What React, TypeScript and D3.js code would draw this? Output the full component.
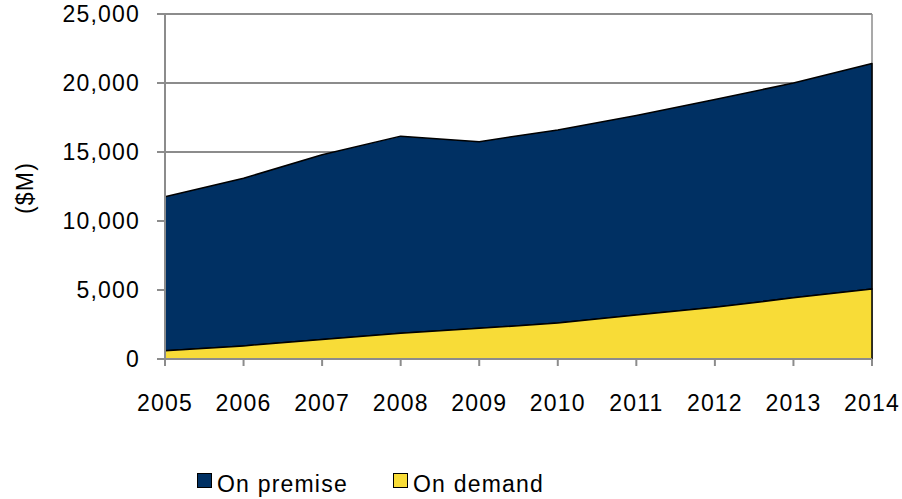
import * as d3 from "d3";
import React from "react";

const years = [2005, 2006, 2007, 2008, 2009, 2010, 2011, 2012, 2013, 2014];
const onDemand = [600, 950, 1420, 1870, 2220, 2600, 3180, 3750, 4430, 5080];
const total = [11750, 13100, 14800, 16150, 15750, 16600, 17650, 18800, 20000, 21420];
const onPremise = total.map((t, i) => t - onDemand[i]);
const yTicks = [0, 5000, 10000, 15000, 20000, 25000];

const seriesNames = ["On demand", "On premise"];
const colors: Record<string, string> = {
  "On premise": "#003063",
  "On demand": "#F8DC37",
};

export default function App() {
  const W = 902;
  const H = 499;
  const margin = { top: 14, right: 30, bottom: 140, left: 165 };
  const width = 872 - margin.left;
  const height = 359 - margin.top;

  const x = d3.scaleLinear().domain([2005, 2014]).range([0, width]);
  const y = d3.scaleLinear().domain([0, 25000]).range([height, 0]);

  const rows = years.map((yr, i) => ({
    year: yr,
    "On demand": onDemand[i],
    "On premise": onPremise[i],
  }));
  const stack = d3.stack<any>().keys(seriesNames);
  const layers = stack(rows);

  const area = d3
    .area<any>()
    .x((d) => x(d.data.year))
    .y0((d) => y(d[0]))
    .y1((d) => y(d[1]));

  const font = "'Liberation Sans', Arial, sans-serif";
  const grid = "#8c8c8c";
  const fs = 23;
  const ls = 1.2;

  return (
    <svg
      width={W}
      height={H}
      style={{ position: "absolute", left: 0, top: 0, background: "#fff" }}
      fontFamily={font}
    >
      <g transform={`translate(${margin.left},${margin.top})`}>
        {yTicks.map((t) => (
          <g key={t}>
            <line x1={-8} x2={width} y1={y(t)} y2={y(t)} stroke={grid} strokeWidth={2} />
            <text x={-25} y={y(t)} dy="0.36em" textAnchor="end" fontSize={fs} letterSpacing={ls} fill="#000">
              {d3.format(",")(t)}
            </text>
          </g>
        ))}
        <line x1={width} x2={width} y1={0} y2={height} stroke={grid} strokeWidth={1.5} />
        {layers
          .slice()
          .reverse()
          .map((layer) => (
            <path
              key={layer.key}
              d={area(layer) || ""}
              fill={colors[layer.key]}
              stroke="#000"
              strokeWidth={1.5}
              strokeLinejoin="round"
            />
          ))}
        <line x1={0} x2={0} y1={0} y2={height} stroke={grid} strokeWidth={2} />
        <line x1={0} x2={width} y1={height} y2={height} stroke={grid} strokeWidth={2} />
        {years.map((yr) => (
          <g key={yr}>
            <line x1={x(yr)} x2={x(yr)} y1={height} y2={height + 7} stroke={grid} strokeWidth={2} />
            <text x={x(yr)} y={height + 52} textAnchor="middle" fontSize={fs} letterSpacing={ls} fill="#000">
              {yr}
            </text>
          </g>
        ))}
      </g>
      <text
        transform={`translate(33,188) rotate(-90)`}
        textAnchor="middle"
        fontSize={fs}
        letterSpacing={ls}
        fill="#000"
      >
        ($M)
      </text>
      <g transform="translate(197,473)">
        {["On premise", "On demand"].map((name, i) => (
          <g key={name} transform={`translate(${i * 196},0)`}>
            <rect x={0.5} y={0.5} width={14} height={14} fill={colors[name]} stroke="#000" strokeWidth={1} />
            <text x={20} y={19} fontSize={fs} letterSpacing={ls} fill="#000">
              {name}
            </text>
          </g>
        ))}
      </g>
    </svg>
  );
}
